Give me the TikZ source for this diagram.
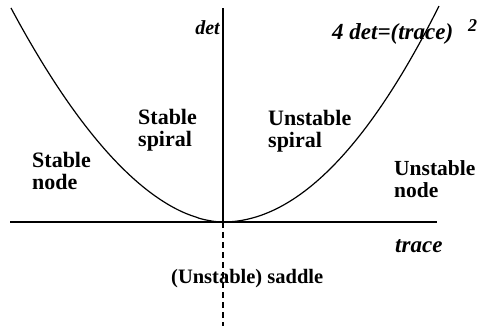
\documentclass[tikz,border=0pt]{standalone}
\usepackage{fontspec}
\setmainfont{Liberation Serif}
\begin{document}
\begin{tikzpicture}[x=1pt,y=-1pt,
  lab/.style={font=\fontsize{22}{22}\selectfont\bfseries, align=left, inner sep=0pt, anchor=north west},
  ital/.style={font=\fontsize{23}{23}\selectfont\bfseries\itshape, inner sep=0pt},
  axis/.style={line width=1.3pt},
  curve/.style={line width=1.2pt}]
\useasboundingbox (0,0) rectangle (477,326);
\coordinate (O) at (223,222);
\coordinate (ytop) at (223,8);
\coordinate (ybot) at (223,326);
\coordinate (xl) at (10,222);
\coordinate (xr) at (437,222);
\draw[axis] (xl) -- (xr);
\draw[axis] (O) -- (ytop);
\draw[line width=1.2pt, dash pattern=on 6pt off 4pt] (O) -- (ybot);
\draw[curve] plot[domain=11:223, samples=80, smooth] (\x, {222 - 214*((223-\x)/212)^1.85});
\draw[curve] plot[domain=223:439, samples=80, smooth] (\x, {222 - 212*((\x-223)/214)^2});
\node[ital, anchor=base east, font=\fontsize{20}{20}\selectfont\bfseries\itshape] (det) at (220,35) {det};
\node[ital, anchor=base west] (trace) at (395,252) {trace};
\node[ital, anchor=base west] (eq) at (332,40) {4 det=(trace)};
\node[ital, anchor=base west, font=\fontsize{18}{18}\selectfont\bfseries\itshape] (sq) at (468,32) {2};
\node[lab] (ss) at (138,109) {Stable\\spiral};
\node[lab] (sn) at (32,152) {Stable\\node};
\node[lab] (us) at (268,110) {Unstable\\spiral};
\node[lab, font=\fontsize{21.5}{22}\selectfont\bfseries] (un) at (394,160) {Unstable\\node};
\node[font=\fontsize{20.5}{21}\selectfont\bfseries, inner sep=0pt, anchor=base west] (sad) at (171,283) {(Unstable) saddle};
\end{tikzpicture}
\end{document}
